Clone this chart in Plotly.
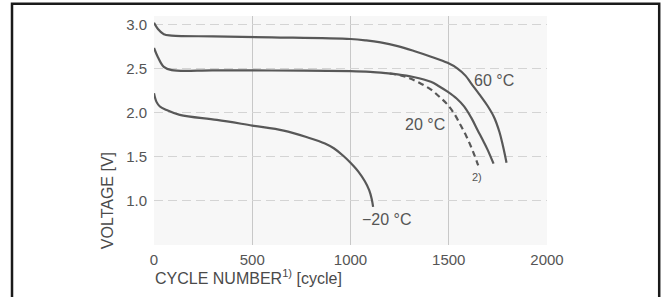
import plotly.graph_objects as go

# ---- data ----
x_60 = [0, 20, 50, 90, 300, 600, 1000, 1080, 1153, 1240, 1323, 1410, 1494, 1545, 1585, 1613,
        1660, 1698, 1730, 1758, 1775, 1786, 1794]
y_60 = [3.02, 2.95, 2.89, 2.875, 2.865, 2.855, 2.836, 2.82, 2.797, 2.755, 2.70, 2.635, 2.565, 2.50,
        2.42, 2.335, 2.195, 2.075, 1.95, 1.78, 1.63, 1.52, 1.43]

x_20 = [0, 20, 50, 90, 300, 600, 1000, 1100, 1180, 1239, 1320, 1409, 1450, 1494, 1540, 1579,
        1615, 1647, 1675, 1698, 1728]
y_20 = [2.735, 2.63, 2.52, 2.483, 2.48, 2.478, 2.47, 2.462, 2.448, 2.435, 2.405, 2.35, 2.30, 2.238,
        2.16, 2.068, 1.94, 1.80, 1.68, 1.577, 1.42]

x_20b = [1200, 1260, 1300, 1350, 1410, 1455, 1494, 1530, 1562, 1590, 1613, 1630, 1642, 1650]
y_20b = [2.444, 2.42, 2.39, 2.34, 2.26, 2.175, 2.09, 1.98, 1.85, 1.73, 1.615, 1.52, 1.45, 1.40]

x_m20 = [0, 12, 30, 63, 131, 320, 500, 660, 780, 870, 915, 963, 1000, 1040, 1073, 1095, 1108, 1115]
y_m20 = [2.22, 2.125, 2.07, 2.03, 1.974, 1.917, 1.853, 1.796, 1.72, 1.65, 1.595, 1.51, 1.43, 1.33,
         1.22, 1.12, 1.02, 0.93]

x_ticks = [0, 500, 1000, 1500, 2000]
y_ticks = [1.0, 1.5, 2.0, 2.5, 3.0]

labels = ["60 °C", "20 °C", "\u221220 °C", "2)"]
label_x = [1730, 1379, 1184, 1644]
label_y = [2.36, 1.86, 0.79, 1.27]
label_size = [16, 16, 16, 11]

LINE = "#585858"
TXT = "#555555"
FONT = "Liberation Sans, Arial, sans-serif"

fig = go.Figure()
for xs, ys, dash in [(x_60, y_60, "solid"), (x_20, y_20, "solid"),
                     (x_20b, y_20b, "6px,4px"), (x_m20, y_m20, "solid")]:
    fig.add_trace(go.Scatter(x=xs, y=ys, mode="lines",
                             line=dict(color=LINE, width=2.2, dash=dash,
                                       shape="spline", smoothing=1),
                             showlegend=False, hoverinfo="skip"))

for t, lx, ly, s in zip(labels, label_x, label_y, label_size):
    fig.add_annotation(x=lx, y=ly, text=t, showarrow=False,
                       font=dict(size=s, color=TXT, family=FONT))

fig.add_annotation(xref="paper", yref="paper", x=-0.118, y=0.194, text="VOLTAGE [V]",
                   textangle=-90, showarrow=False, xanchor="center", yanchor="middle",
                   font=dict(size=16, color="#4a4a4a", family=FONT))
fig.add_annotation(xref="paper", yref="paper", x=-0.003, y=-0.14,
                   text="CYCLE NUMBER<sup>1)</sup> [cycle]", showarrow=False,
                   xanchor="left", yanchor="middle",
                   font=dict(size=16, color="#4a4a4a", family=FONT))

# frame around the figure
fig.add_shape(type="path", xref="paper", yref="paper",
              path="M -0.3613,-0.30 L -0.3613,1.0537 L 1.2855,1.0537 L 1.2855,-0.30",
              line=dict(color="#1a1a1a", width=2.5))

fig.update_layout(
    width=663, height=297,
    margin=dict(l=154, r=116, t=16, b=52),
    paper_bgcolor="white", plot_bgcolor="#f7f7f7",
    font=dict(family=FONT, size=15, color=TXT),
    xaxis=dict(range=[0, 2000], tickvals=x_ticks, ticktext=[str(v) for v in x_ticks],
               showgrid=True, gridcolor="#c8c8c8", gridwidth=1, zeroline=False,
               showline=False, ticks="", ticklabelstandoff=4,
               tickfont=dict(size=15, color=TXT)),
    yaxis=dict(range=[0.497, 3.097], tickvals=y_ticks, ticktext=[f"{v:.1f}" for v in y_ticks],
               showgrid=True, gridcolor="#d4d4d4", gridwidth=1, griddash="9px,5px",
               zeroline=False, showline=False, ticks="", ticklabelstandoff=6,
               tickfont=dict(size=15, color=TXT)),
)

fig.write_html("out.html", config={"displayModeBar": False},
               post_script="document.body.style.margin='0';document.body.style.overflow='hidden';")
